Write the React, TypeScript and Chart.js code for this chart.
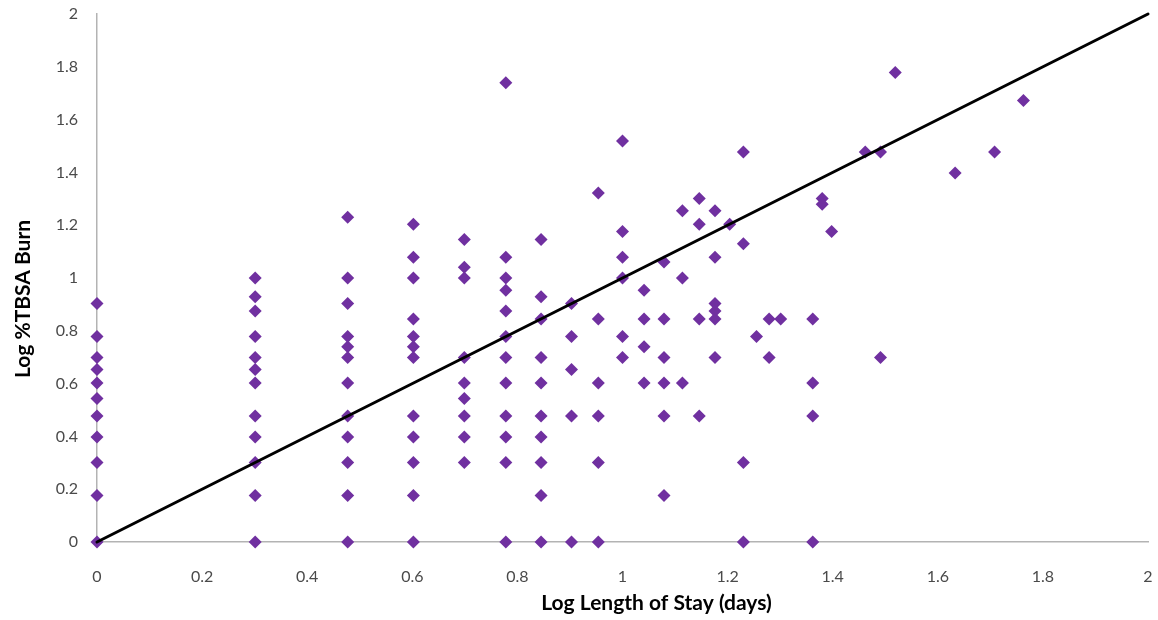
import React, { useEffect, useRef } from "react";
import { Chart, registerables } from "chart.js";

Chart.register(...registerables);

// Log10 length of stay (days) – one entry per column of points
const logStay = [
  0, 0.301, 0.477, 0.602, 0.699, 0.778, 0.845, 0.903, 0.954, 1, 1.041, 1.079,
  1.114, 1.146, 1.176, 1.204, 1.23, 1.255, 1.279, 1.301, 1.362, 1.38, 1.398,
  1.462, 1.491, 1.519, 1.633, 1.708, 1.763,
];

// Log10 %TBSA burn values observed at each stay value above
const logBurn = [
  [0.903, 0.778, 0.699, 0.653, 0.602, 0.544, 0.477, 0.398, 0.301, 0.176, 0],
  [1, 0.929, 0.875, 0.778, 0.699, 0.653, 0.602, 0.477, 0.398, 0.301, 0.176, 0],
  [1.23, 1, 0.903, 0.778, 0.74, 0.699, 0.602, 0.477, 0.398, 0.301, 0.176, 0],
  [1.204, 1.079, 1, 0.845, 0.778, 0.74, 0.699, 0.477, 0.398, 0.301, 0.176, 0],
  [1.146, 1.041, 1, 0.699, 0.602, 0.544, 0.477, 0.398, 0.301],
  [1.74, 1.079, 1, 0.954, 0.875, 0.778, 0.699, 0.602, 0.477, 0.398, 0.301, 0],
  [1.146, 0.929, 0.845, 0.699, 0.602, 0.477, 0.398, 0.301, 0.176, 0],
  [0.903, 0.778, 0.653, 0.477, 0],
  [1.322, 0.845, 0.602, 0.477, 0.301, 0],
  [1.519, 1.176, 1.079, 1, 0.778, 0.699],
  [0.954, 0.845, 0.74, 0.602],
  [1.061, 0.845, 0.699, 0.602, 0.477, 0.176],
  [1.255, 1, 0.602],
  [1.301, 1.204, 0.845, 0.477],
  [1.255, 1.079, 0.903, 0.875, 0.845, 0.699],
  [1.204],
  [1.477, 1.13, 0.301, 0],
  [0.778],
  [0.845, 0.699],
  [0.845],
  [0.845, 0.602, 0.477, 0],
  [1.301, 1.279],
  [1.176],
  [1.477],
  [1.477, 0.699],
  [1.778],
  [1.398],
  [1.477],
  [1.672],
];

// Trend line end points
const trendX = [0, 2];
const trendY = [0, 2];

const xTitle = "Log Length of Stay (days)";
const yTitle = "Log %TBSA Burn";

const FONT = "Lato, 'Open Sans', sans-serif";

export default function App() {
  const ref = useRef<HTMLCanvasElement | null>(null);

  useEffect(() => {
    if (!ref.current) return;
    const points: { x: number; y: number }[] = [];
    logStay.forEach((x, i) => {
      logBurn[i].forEach((y) => points.push({ x, y }));
    });
    const trend = trendX.map((x, i) => ({ x, y: trendY[i] }));

    const titlePlugin = {
      id: "axisTitles",
      afterDraw(chart: any) {
        const { ctx, chartArea } = chart;
        ctx.save();
        ctx.fillStyle = "#000000";
        ctx.font = `bold 21px ${FONT}`;
        ctx.textAlign = "center";
        ctx.textBaseline = "middle";
        ctx.fillText(xTitle, (chartArea.left + chartArea.right) / 2 + 34, 603);
        ctx.translate(23, (chartArea.top + chartArea.bottom) / 2 + 21);
        ctx.rotate(-Math.PI / 2);
        ctx.fillText(yTitle, 0, 0);
        ctx.restore();
      },
    };

    const chart = new Chart(ref.current, {
      type: "scatter",
      data: {
        datasets: [
          {
            type: "line",
            data: trend,
            borderColor: "#000000",
            borderWidth: 3,
            pointRadius: 0,
            fill: false,
            borderCapStyle: "round",
            clip: false,
          } as any,
          {
            data: points,
            pointStyle: "rectRot",
            pointRadius: 6.5,
            pointBackgroundColor: "#7030a0",
            pointBorderWidth: 0,
            borderColor: "#7030a0",
            backgroundColor: "#7030a0",
            clip: false,
          } as any,
        ],
      },
      options: {
        animation: false,
        responsive: false,
        layout: { autoPadding: false, padding: { top: 14, right: 10, left: 0, bottom: 0 } },
        plugins: { legend: { display: false }, tooltip: { enabled: false } },
        scales: {
          x: {
            type: "linear",
            min: 0,
            max: 2,
            grid: { color: "transparent", tickColor: "transparent", drawTicks: true, tickLength: 25 },
            border: { display: true, color: "#b3b3b3", width: 1.5 },
            ticks: {
              stepSize: 0.2,
              padding: 0,
              color: "#4a4a4a",
              font: { family: FONT, size: 16 },
              maxRotation: 0,
              callback: (v: any) => String(Number(Number(v).toFixed(1))),
            },
            afterFit: (s: any) => {
              s.height = 78;
            },
          },
          y: {
            type: "linear",
            min: 0,
            max: 2,
            grid: { color: "transparent", tickColor: "transparent", drawTicks: true, tickLength: 19 },
            border: { display: true, color: "#b3b3b3", width: 1.5 },
            ticks: {
              stepSize: 0.2,
              padding: 0,
              color: "#4a4a4a",
              font: { family: FONT, size: 16 },
              callback: (v: any) => String(Number(Number(v).toFixed(1))),
            },
            afterFit: (s: any) => {
              s.width = 97;
            },
          },
        },
      },
      plugins: [titlePlugin],
    });
    return () => chart.destroy();
  }, []);

  return (
    <div
      style={{
        position: "fixed",
        left: 0,
        top: 0,
        width: 1158,
        height: 620,
        background: "#ffffff",
      }}
    >
      <canvas ref={ref} width={1158} height={620} />
    </div>
  );
}
